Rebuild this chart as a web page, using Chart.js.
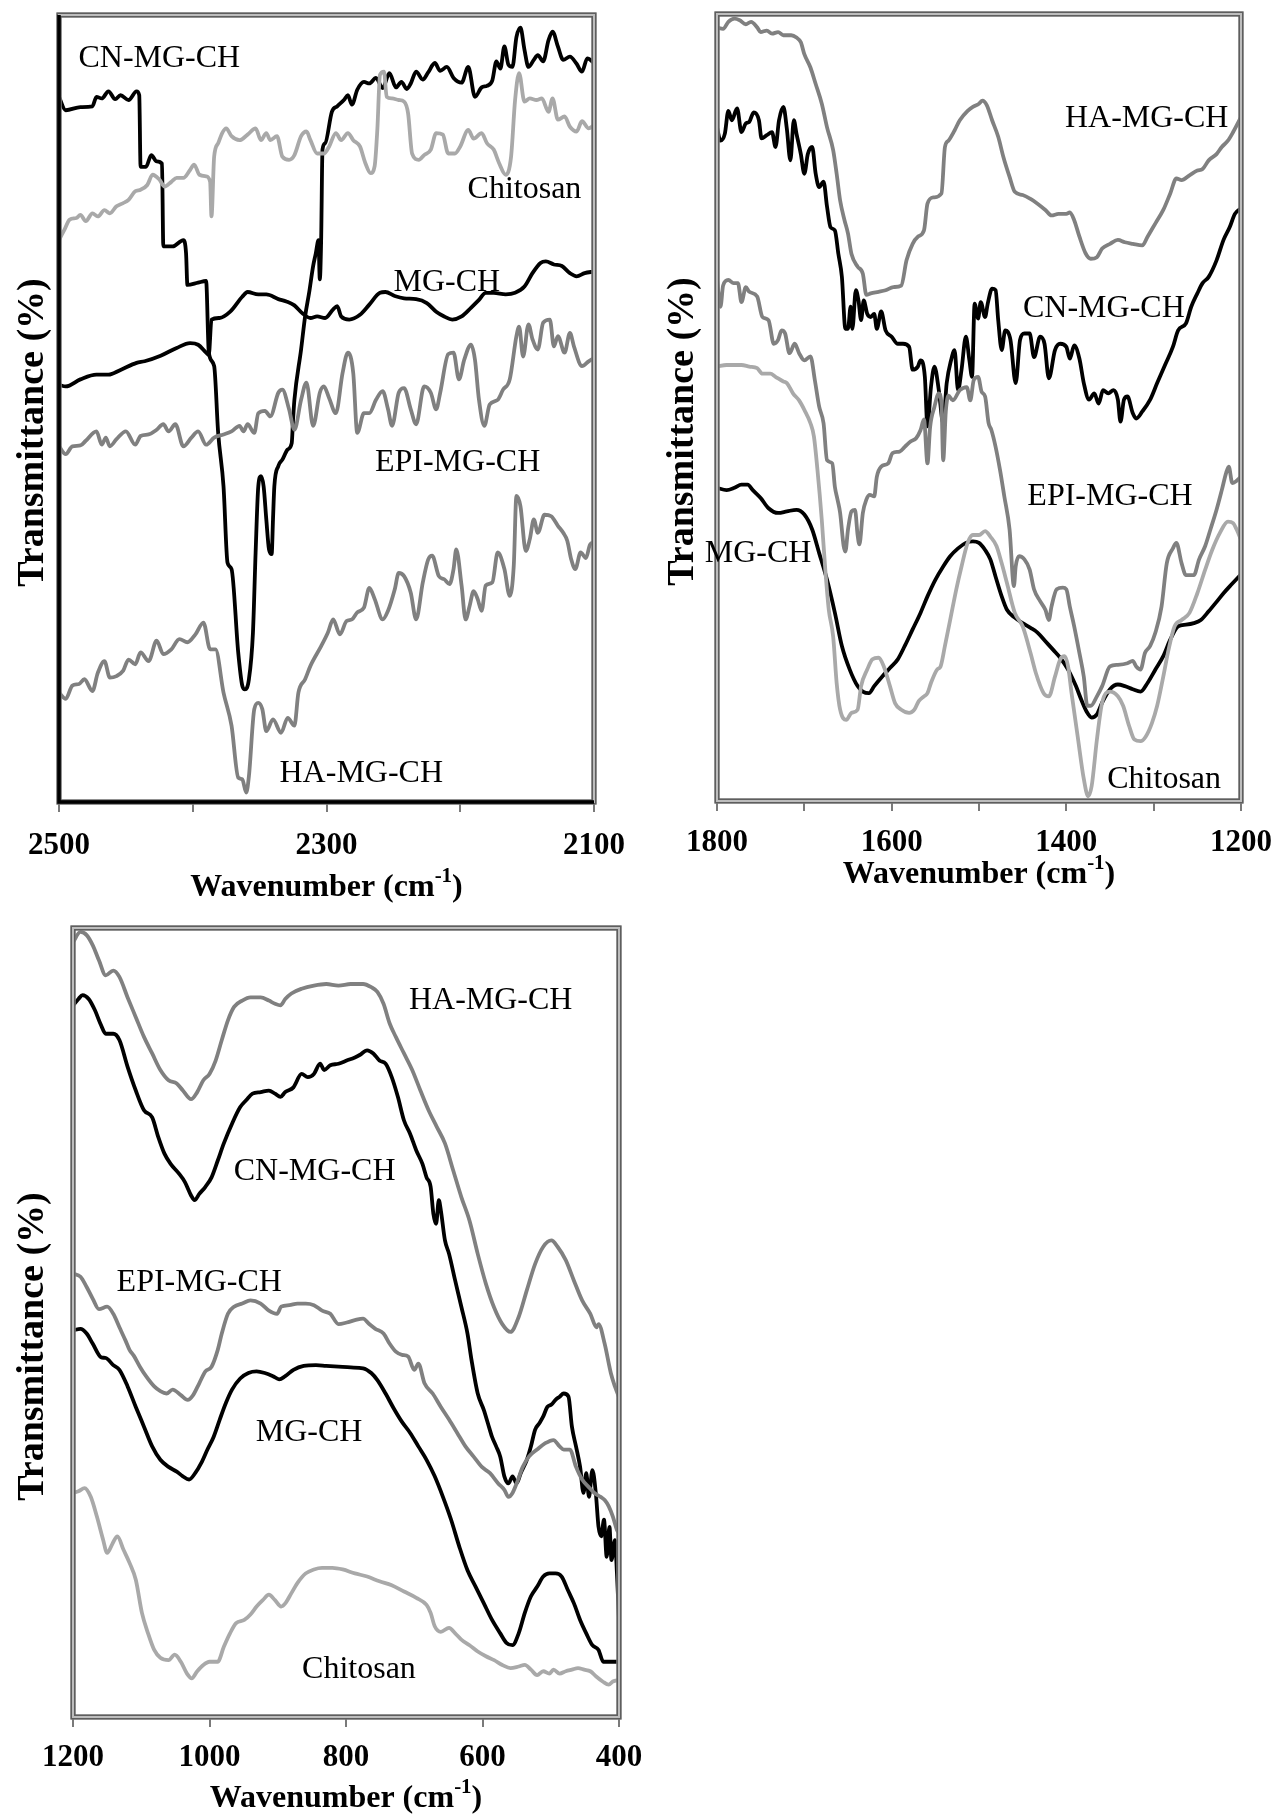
<!DOCTYPE html>
<html><head><meta charset="utf-8">
<script src="https://cdn.jsdelivr.net/npm/chart.js@4.4.1/dist/chart.umd.min.js"></script>
<style>
html,body{margin:0;padding:0;background:#fff;width:1285px;height:1814px;overflow:hidden}
canvas{position:absolute}
</style></head><body>
<canvas id="c1" width="640" height="910" style="left:0px;top:0px"></canvas>
<canvas id="c2" width="635" height="910" style="left:650px;top:0px"></canvas>
<canvas id="c3" width="660" height="904" style="left:0px;top:910px"></canvas>
<script>
// ---------- series names ----------
const seriesNames = ['Chitosan','MG-CH','EPI-MG-CH','HA-MG-CH','CN-MG-CH'];

// ---------- panel 1 : 2500-2100 cm-1  [wavenumber, transmittance(relative)] ----------
const p1CN = [[2500,89.6],[2495,87.9],[2484,88.3],[2475,88.4],[2472,89.6],[2468,89.4],[2463,90.3],[2458,89.3],[2454,89.8],[2448,89.2],[2442,90.3],[2440,89.8],[2439,80.7],[2435,80.7],[2431,82.2],[2427,81.4],[2423,81.1],[2422,70.6],[2415,70.6],[2407,71.4],[2405,69.7],[2404,65.7],[2396,66.0],[2390,66.2],[2388,57.1],[2384,55.4],[2381,46.9],[2377,40.1],[2374,30.4],[2371,29.6],[2366,19.0],[2363,14.8],[2361,14.3],[2358,15.6],[2355,21.5],[2353,31.7],[2351,40.1],[2349,41.4],[2347,40.1],[2345,35.9],[2343,32.1],[2341,31.5],[2340,35.9],[2339,40.1],[2336,42.7],[2333,43.5],[2329,44.8],[2326,45.6],[2325,48.6],[2324,51.1],[2319,57.5],[2316,61.7],[2313,64.7],[2310,68.1],[2308,69.7],[2306,71.4],[2305,66.4],[2304,71.4],[2303,82.9],[2301,83.7],[2296,87.7],[2292,88.4],[2287,89.2],[2284,89.8],[2281,88.6],[2277,90.5],[2272,91.5],[2268,91.3],[2263,92.0],[2258,90.7],[2253,92.6],[2248,90.8],[2244,91.5],[2240,90.6],[2237,91.3],[2233,92.8],[2228,91.8],[2224,92.7],[2219,93.9],[2215,92.9],[2210,93.4],[2205,92.0],[2199,91.4],[2194,93.4],[2189,89.6],[2184,90.8],[2180,91.0],[2176,91.7],[2173,94.1],[2170,93.2],[2167,96.0],[2164,93.7],[2161,93.4],[2158,97.2],[2155,98.4],[2152,95.6],[2149,93.4],[2145,94.3],[2142,94.9],[2138,94.1],[2134,96.8],[2131,97.9],[2127,96.0],[2123,94.3],[2118,94.7],[2113,93.8],[2109,92.8],[2105,94.5],[2100,93.9]];
const p1MG = [[2500,53.0],[2495,52.8],[2484,53.7],[2472,54.3],[2463,54.3],[2454,54.9],[2442,55.8],[2436,56.0],[2424,56.7],[2412,57.7],[2402,58.3],[2396,58.1],[2390,57.1],[2388,56.8],[2386,61.3],[2380,61.5],[2372,62.3],[2363,64.2],[2359,64.8],[2351,64.5],[2345,64.5],[2336,63.9],[2330,63.6],[2324,63.1],[2318,62.1],[2312,61.5],[2307,61.7],[2301,61.5],[2295,62.6],[2292,63.0],[2289,61.7],[2283,61.3],[2275,61.9],[2268,63.2],[2260,64.7],[2256,64.8],[2249,64.3],[2242,64.0],[2233,63.9],[2225,63.4],[2218,62.3],[2212,61.7],[2206,61.3],[2199,61.7],[2192,62.8],[2186,63.8],[2181,64.7],[2175,64.7],[2166,64.5],[2159,64.7],[2152,65.5],[2146,67.2],[2140,68.5],[2136,68.7],[2130,68.3],[2124,68.1],[2118,67.2],[2113,66.8],[2107,67.2],[2100,67.4]];
const p1Chi = [[2500,71.4],[2496,72.7],[2492,74.0],[2487,74.2],[2484,74.6],[2480,73.8],[2475,74.8],[2471,74.4],[2466,75.2],[2462,74.8],[2457,75.7],[2452,76.1],[2448,76.5],[2443,77.6],[2439,77.8],[2434,78.4],[2430,79.7],[2425,79.1],[2421,78.2],[2416,78.8],[2412,79.3],[2407,79.3],[2402,80.3],[2399,81.0],[2395,79.7],[2390,79.5],[2387,78.8],[2386,74.4],[2384,82.0],[2381,83.7],[2378,85.0],[2375,85.6],[2371,84.6],[2365,84.1],[2359,84.8],[2353,85.6],[2349,84.1],[2345,85.0],[2342,84.1],[2337,84.6],[2333,82.0],[2328,81.6],[2324,82.2],[2319,84.6],[2315,85.2],[2312,84.1],[2307,82.4],[2302,82.4],[2298,83.3],[2293,85.0],[2289,84.1],[2284,85.0],[2280,84.1],[2275,83.3],[2271,81.2],[2267,79.9],[2264,80.8],[2262,85.4],[2260,92.4],[2257,92.8],[2255,89.6],[2251,89.4],[2246,89.2],[2242,89.0],[2239,87.5],[2236,82.4],[2231,81.6],[2227,82.2],[2222,82.9],[2218,85.0],[2213,84.8],[2209,82.4],[2204,82.4],[2200,83.3],[2194,85.4],[2190,84.3],[2184,85.0],[2180,83.7],[2175,82.9],[2171,81.2],[2166,79.7],[2162,82.0],[2159,89.2],[2156,92.6],[2152,89.0],[2148,89.4],[2143,89.2],[2139,89.4],[2134,87.7],[2131,89.4],[2127,86.7],[2122,87.1],[2118,85.8],[2113,85.2],[2109,86.5],[2104,85.6],[2100,86.0]];
const p1EPI = [[2500,45.2],[2495,44.2],[2490,45.2],[2484,45.3],[2480,45.9],[2472,47.1],[2468,45.4],[2465,46.3],[2462,45.2],[2457,46.1],[2450,47.1],[2443,45.4],[2439,46.5],[2433,46.7],[2427,47.3],[2422,48.0],[2418,47.1],[2413,48.0],[2407,45.2],[2401,46.3],[2396,47.1],[2390,45.4],[2384,46.3],[2377,46.7],[2371,47.1],[2365,47.8],[2362,47.1],[2359,48.0],[2354,46.9],[2351,49.4],[2346,49.7],[2342,49.0],[2336,52.0],[2333,52.4],[2328,49.9],[2324,47.3],[2319,51.1],[2315,53.3],[2310,47.8],[2305,52.0],[2302,52.8],[2298,51.3],[2293,49.4],[2288,54.5],[2284,57.1],[2280,54.5],[2277,46.9],[2272,49.4],[2268,49.4],[2263,51.1],[2258,52.2],[2254,49.9],[2251,47.8],[2246,52.0],[2242,52.6],[2237,49.9],[2233,48.0],[2227,52.8],[2222,52.0],[2218,49.9],[2215,52.0],[2209,56.9],[2205,57.1],[2201,53.7],[2197,56.2],[2192,58.1],[2189,56.2],[2186,51.1],[2182,47.8],[2178,50.5],[2172,51.1],[2168,52.4],[2163,53.7],[2158,59.2],[2156,60.4],[2153,56.6],[2149,60.7],[2146,58.8],[2142,57.5],[2138,60.9],[2133,61.3],[2130,57.9],[2127,59.2],[2122,57.1],[2118,59.6],[2115,57.9],[2109,55.4],[2104,56.0],[2100,56.4]];
const p1HA = [[2500,13.9],[2495,13.1],[2490,14.8],[2485,15.0],[2481,15.6],[2475,14.1],[2471,16.4],[2466,17.9],[2462,15.8],[2457,16.0],[2452,16.7],[2448,18.1],[2443,17.5],[2439,19.0],[2433,17.9],[2427,20.5],[2422,18.8],[2416,19.4],[2410,20.7],[2404,20.3],[2398,21.3],[2392,22.8],[2387,19.4],[2383,19.4],[2377,13.9],[2371,9.7],[2366,3.1],[2363,2.9],[2360,1.2],[2358,3.3],[2354,11.8],[2351,12.6],[2348,11.8],[2345,9.0],[2340,10.5],[2334,8.8],[2329,10.7],[2324,9.7],[2321,13.9],[2316,15.6],[2312,17.3],[2304,19.8],[2299,21.5],[2295,23.2],[2290,21.3],[2285,23.0],[2281,23.2],[2277,24.1],[2272,24.7],[2268,27.2],[2264,25.8],[2258,23.2],[2254,24.3],[2249,27.0],[2246,29.1],[2242,28.7],[2237,26.6],[2233,23.2],[2228,27.9],[2224,30.8],[2221,31.3],[2216,28.7],[2212,28.3],[2208,27.7],[2205,29.6],[2203,32.1],[2199,27.5],[2196,23.2],[2193,24.9],[2190,26.8],[2187,25.8],[2184,24.3],[2181,27.5],[2176,27.9],[2172,31.7],[2167,29.6],[2163,26.2],[2160,30.0],[2158,38.9],[2155,37.6],[2151,31.9],[2148,33.4],[2145,35.9],[2142,34.2],[2137,36.5],[2132,36.3],[2127,35.1],[2123,34.2],[2120,33.2],[2117,30.8],[2114,29.6],[2110,31.7],[2106,31.0],[2103,32.7],[2100,33.0]];

// ---------- panel 2 : 1800-1200 cm-1 ----------
const p2HA = [[1800,98.3],[1793,98.1],[1787,99.0],[1780,99.4],[1774,99.2],[1767,98.7],[1761,99.0],[1754,98.3],[1750,97.7],[1743,97.9],[1737,97.5],[1730,97.7],[1724,97.3],[1715,97.3],[1709,97.0],[1704,96.4],[1700,94.9],[1693,93.2],[1687,91.1],[1680,88.6],[1674,85.6],[1667,82.7],[1663,79.7],[1659,76.3],[1654,73.8],[1650,72.1],[1646,69.5],[1639,67.9],[1633,67.0],[1629,64.3],[1624,64.5],[1615,64.7],[1607,64.9],[1598,65.3],[1589,65.5],[1583,68.7],[1576,70.8],[1570,71.7],[1563,72.5],[1559,75.9],[1552,76.7],[1543,77.2],[1539,83.1],[1535,83.9],[1528,85.2],[1522,86.5],[1513,87.7],[1507,88.2],[1500,88.6],[1496,89.0],[1491,88.4],[1485,86.5],[1478,84.4],[1472,81.8],[1465,79.3],[1459,77.4],[1450,77.0],[1441,76.5],[1433,75.9],[1424,75.1],[1417,74.4],[1409,74.6],[1400,74.6],[1396,74.8],[1391,73.8],[1385,71.7],[1378,69.6],[1372,68.9],[1365,69.1],[1359,70.2],[1350,70.8],[1341,71.3],[1333,71.0],[1324,70.8],[1313,70.6],[1307,71.7],[1298,73.4],[1289,75.1],[1281,77.2],[1274,79.1],[1268,78.9],[1259,79.5],[1250,80.1],[1244,80.3],[1237,81.4],[1228,82.2],[1222,83.1],[1215,83.9],[1209,85.0],[1200,86.9]];
const p2CN = [[1800,85.6],[1796,83.9],[1791,84.8],[1787,87.7],[1783,86.5],[1777,88.0],[1772,85.0],[1767,86.1],[1763,86.3],[1758,87.5],[1752,86.5],[1749,84.2],[1743,84.6],[1737,85.0],[1733,83.1],[1729,86.5],[1724,88.2],[1720,85.4],[1716,81.4],[1712,86.5],[1709,84.8],[1704,82.2],[1700,79.7],[1696,82.2],[1691,83.1],[1687,79.7],[1683,78.0],[1678,78.7],[1674,75.5],[1670,72.9],[1665,72.5],[1661,69.5],[1657,66.6],[1653,60.0],[1650,60.0],[1647,62.8],[1645,60.0],[1641,64.9],[1638,63.6],[1635,61.1],[1632,63.6],[1628,61.9],[1624,61.5],[1620,61.9],[1617,60.0],[1612,62.2],[1607,59.8],[1600,59.0],[1593,58.1],[1587,58.1],[1580,57.7],[1576,54.8],[1570,55.2],[1567,56.0],[1562,53.9],[1559,47.6],[1555,52.6],[1551,55.2],[1546,52.2],[1541,48.0],[1537,53.1],[1532,56.0],[1528,57.3],[1524,52.2],[1520,54.8],[1515,59.0],[1511,56.0],[1508,53.9],[1505,63.2],[1501,61.3],[1498,63.4],[1493,61.5],[1490,63.2],[1485,65.1],[1481,64.9],[1478,61.1],[1474,57.3],[1470,59.8],[1464,58.6],[1458,53.1],[1453,58.6],[1448,59.4],[1442,59.4],[1437,56.4],[1430,59.0],[1425,58.1],[1420,53.7],[1413,57.3],[1407,58.1],[1400,57.7],[1396,56.2],[1391,57.9],[1385,56.2],[1380,53.1],[1374,51.0],[1368,51.8],[1363,50.5],[1358,52.2],[1352,51.8],[1346,52.2],[1341,51.0],[1338,48.2],[1334,51.0],[1330,51.4],[1324,49.3],[1320,48.6],[1313,49.5],[1304,51.0],[1296,53.1],[1287,55.4],[1278,57.7],[1272,59.8],[1263,60.7],[1257,62.8],[1250,64.5],[1244,65.8],[1237,66.6],[1228,68.7],[1220,71.3],[1213,72.9],[1207,74.6],[1200,75.3]];
const p2EPI = [[1800,66.2],[1796,62.8],[1793,65.5],[1787,66.2],[1781,65.8],[1776,65.8],[1772,63.4],[1767,65.3],[1763,64.7],[1754,64.1],[1748,61.5],[1741,61.1],[1735,58.1],[1730,58.6],[1726,59.8],[1722,59.4],[1717,56.9],[1711,58.1],[1706,56.9],[1700,56.0],[1693,56.5],[1688,53.5],[1683,50.1],[1678,48.0],[1674,43.3],[1668,42.9],[1665,39.9],[1662,38.3],[1659,36.6],[1655,32.4],[1653,31.7],[1650,34.5],[1646,36.8],[1642,37.0],[1639,33.8],[1637,32.6],[1633,36.6],[1629,38.3],[1625,38.9],[1620,38.7],[1617,41.2],[1612,42.5],[1604,42.9],[1599,44.2],[1591,44.4],[1585,45.0],[1578,45.7],[1572,46.1],[1567,47.1],[1563,48.5],[1559,42.9],[1556,47.5],[1551,50.1],[1546,51.8],[1543,50.5],[1541,43.3],[1538,49.5],[1535,51.5],[1530,50.9],[1522,52.2],[1514,52.6],[1510,50.9],[1506,53.5],[1501,53.9],[1497,52.0],[1493,51.4],[1489,48.0],[1486,47.2],[1481,45.0],[1476,42.1],[1471,38.7],[1465,34.5],[1460,27.3],[1458,29.8],[1454,31.1],[1448,30.7],[1442,29.4],[1437,26.9],[1430,25.4],[1424,24.3],[1420,23.0],[1417,24.7],[1411,26.9],[1404,27.1],[1400,26.9],[1396,24.7],[1391,22.2],[1385,18.8],[1380,15.8],[1376,12.1],[1372,12.1],[1365,13.3],[1359,14.6],[1350,17.1],[1341,17.3],[1330,17.5],[1324,17.8],[1320,17.1],[1315,16.7],[1310,18.8],[1304,19.7],[1298,21.4],[1291,24.7],[1285,30.2],[1278,32.1],[1274,32.8],[1268,30.2],[1263,28.7],[1254,28.7],[1248,30.7],[1241,32.4],[1235,34.5],[1228,37.0],[1222,39.5],[1217,41.7],[1214,42.5],[1210,40.4],[1206,40.6],[1200,41.2]];
const p2Chi = [[1800,55.2],[1789,55.4],[1780,55.4],[1772,55.4],[1763,55.2],[1754,55.0],[1748,54.3],[1739,54.3],[1733,53.9],[1724,53.3],[1720,53.1],[1713,51.8],[1706,50.9],[1700,49.7],[1693,48.0],[1689,46.3],[1685,42.1],[1680,35.7],[1676,29.4],[1672,24.3],[1667,20.9],[1663,15.0],[1659,11.6],[1652,10.3],[1646,11.2],[1639,11.6],[1635,14.6],[1628,16.7],[1622,18.0],[1615,18.2],[1609,17.1],[1602,14.6],[1596,12.4],[1589,11.6],[1580,11.2],[1574,11.6],[1569,12.7],[1563,13.3],[1559,13.7],[1555,15.0],[1548,16.7],[1544,17.1],[1539,19.7],[1533,23.0],[1526,26.9],[1520,29.8],[1513,32.8],[1507,33.8],[1500,33.8],[1493,34.3],[1487,33.6],[1480,32.4],[1474,30.2],[1468,27.7],[1459,23.9],[1450,22.2],[1441,18.8],[1435,16.3],[1426,13.7],[1420,13.3],[1413,15.8],[1407,18.0],[1402,18.4],[1398,17.1],[1394,13.7],[1387,8.2],[1380,2.8],[1375,0.6],[1371,1.9],[1365,7.8],[1359,12.5],[1350,13.9],[1341,13.3],[1335,12.1],[1328,9.5],[1322,7.8],[1315,7.6],[1309,8.2],[1302,9.9],[1296,12.1],[1289,15.8],[1283,19.2],[1276,22.2],[1268,23.0],[1259,23.9],[1250,26.4],[1241,29.4],[1233,31.9],[1224,34.1],[1215,35.5],[1209,35.3],[1205,34.5],[1200,33.2]];
const p2MG = [[1800,39.8],[1789,39.5],[1780,39.8],[1772,40.2],[1765,40.2],[1759,39.5],[1750,38.5],[1741,37.2],[1730,36.6],[1720,36.8],[1709,37.0],[1700,36.4],[1691,34.5],[1683,31.5],[1674,28.1],[1665,23.9],[1657,19.7],[1648,16.7],[1639,14.6],[1633,13.9],[1626,13.7],[1620,14.6],[1611,15.8],[1602,16.9],[1593,18.0],[1585,19.7],[1576,21.8],[1567,23.9],[1559,26.0],[1550,28.1],[1541,29.8],[1533,31.1],[1524,32.1],[1515,32.8],[1507,33.0],[1500,32.8],[1493,31.9],[1487,30.7],[1481,28.5],[1474,26.0],[1468,24.3],[1459,23.3],[1450,22.6],[1441,22.0],[1433,21.4],[1424,20.3],[1415,19.2],[1407,18.2],[1398,16.7],[1389,14.6],[1383,12.9],[1376,11.2],[1371,10.6],[1365,11.0],[1359,12.5],[1350,14.2],[1341,14.8],[1333,14.6],[1324,14.2],[1315,13.9],[1307,15.0],[1298,16.7],[1289,18.4],[1281,20.5],[1272,22.2],[1263,22.4],[1254,22.6],[1246,23.0],[1237,24.1],[1228,25.3],[1220,26.4],[1211,27.5],[1200,28.8]];

// ---------- panel 3 : 1200-400 cm-1 ----------
const p3HA = [[1200,98.2],[1189,99.5],[1180,99.1],[1171,97.8],[1162,95.9],[1152,94.0],[1141,94.6],[1132,93.8],[1120,91.2],[1108,88.7],[1096,86.2],[1084,84.1],[1072,82.0],[1060,80.7],[1048,80.3],[1039,79.4],[1027,78.3],[1018,79.2],[1009,80.7],[1000,81.5],[991,83.2],[982,85.8],[973,88.3],[964,90.0],[952,90.8],[940,91.2],[925,91.2],[913,90.8],[904,90.4],[896,90.2],[889,91.0],[880,91.7],[865,92.3],[847,92.7],[829,92.9],[811,92.7],[793,92.9],[775,92.9],[763,92.5],[754,91.9],[745,90.4],[736,87.9],[727,86.2],[715,84.1],[703,82.0],[691,79.4],[679,76.9],[667,74.8],[655,72.7],[643,69.3],[631,65.9],[619,62.9],[607,58.7],[595,54.9],[583,51.9],[571,49.8],[559,48.8],[547,50.7],[535,54.1],[523,57.4],[511,59.6],[499,60.4],[490,59.6],[478,57.9],[466,55.3],[454,52.8],[442,51.1],[433,49.4],[430,49.8],[421,47.3],[412,43.6],[406,41.9],[402,41.0],[400,40.5]];
const p3CN = [[1200,90.2],[1192,91.0],[1186,91.5],[1177,91.0],[1168,89.6],[1159,87.7],[1152,86.6],[1141,86.6],[1132,85.8],[1120,82.4],[1108,79.4],[1096,76.9],[1084,76.0],[1075,73.5],[1066,71.4],[1057,70.1],[1045,68.9],[1036,67.8],[1027,66.1],[1022,65.5],[1015,66.3],[1006,67.2],[997,68.4],[988,70.5],[979,72.7],[967,75.2],[955,77.3],[946,78.2],[937,79.0],[925,79.2],[913,79.4],[904,79.0],[896,78.6],[889,79.2],[877,79.8],[865,81.5],[856,81.1],[847,81.5],[838,82.8],[832,82.0],[823,82.6],[811,82.8],[799,83.2],[787,83.6],[780,83.9],[769,84.5],[760,84.1],[751,83.2],[742,82.8],[733,81.1],[724,78.6],[715,75.6],[706,73.9],[697,71.8],[688,70.1],[682,68.4],[676,67.2],[672,63.8],[668,62.5],[664,65.5],[661,64.2],[655,60.4],[649,58.7],[640,55.3],[631,52.0],[622,48.6],[616,45.2],[607,41.0],[598,38.9],[592,37.2],[586,35.5],[580,34.3],[574,33.0],[568,30.5],[562,29.6],[556,30.5],[550,29.6],[544,30.9],[535,32.6],[529,34.3],[523,36.4],[517,37.2],[511,38.1],[505,39.3],[499,39.6],[493,40.2],[487,40.6],[481,41.0],[474,40.6],[469,36.8],[463,34.3],[457,31.7],[452,28.4],[448,30.9],[444,27.9],[439,31.3],[434,28.4],[430,24.1],[426,22.9],[422,25.0],[418,20.3],[414,24.1],[411,19.9],[406,22.4],[403,18.2],[400,12.3]];
const p3EPI = [[1200,56.2],[1189,55.8],[1180,54.5],[1171,53.0],[1162,51.7],[1150,52.0],[1141,51.1],[1132,49.4],[1123,47.7],[1117,46.5],[1111,45.8],[1102,44.4],[1093,43.2],[1081,41.9],[1072,41.3],[1063,41.0],[1054,41.5],[1042,40.8],[1032,40.2],[1024,40.8],[1015,42.3],[1006,43.8],[997,44.4],[988,46.5],[982,48.6],[973,51.1],[964,52.0],[952,52.4],[940,52.8],[925,52.4],[913,51.5],[901,51.1],[895,52.0],[883,52.2],[871,52.4],[859,52.4],[847,52.2],[835,51.5],[823,51.1],[811,49.8],[799,50.0],[787,50.3],[775,50.5],[766,49.8],[757,49.2],[745,48.6],[736,47.3],[727,46.3],[718,45.9],[709,45.7],[700,44.0],[694,44.8],[685,42.3],[673,41.0],[661,39.3],[649,37.7],[637,36.0],[625,34.3],[613,33.0],[601,31.7],[589,30.9],[577,29.6],[568,28.8],[562,27.9],[556,28.4],[550,29.6],[541,31.7],[532,33.0],[520,33.9],[508,34.7],[496,35.1],[487,34.3],[481,33.9],[472,33.9],[463,31.7],[454,30.1],[445,29.2],[436,28.4],[427,27.9],[421,27.5],[415,26.7],[409,25.4],[403,23.7],[400,23.3]];
const p3MG = [[1200,49.0],[1189,49.2],[1180,48.6],[1171,47.3],[1159,45.6],[1152,45.5],[1141,44.6],[1132,44.0],[1120,41.9],[1108,39.3],[1096,36.8],[1084,34.3],[1072,32.6],[1060,31.7],[1048,31.1],[1039,30.5],[1030,30.1],[1021,30.9],[1012,32.2],[1003,33.9],[994,35.5],[985,37.7],[976,39.8],[967,41.5],[955,42.9],[943,43.6],[931,43.8],[919,43.6],[907,43.2],[898,42.8],[889,43.2],[877,44.0],[862,44.5],[844,44.6],[829,44.5],[811,44.4],[793,44.3],[775,44.2],[763,43.6],[754,42.7],[742,41.0],[730,39.1],[718,37.4],[706,36.0],[694,34.3],[682,32.6],[670,30.5],[658,27.9],[646,25.0],[634,21.6],[622,18.6],[610,16.5],[598,14.4],[586,12.3],[574,10.6],[565,9.4],[556,9.1],[547,10.6],[538,13.2],[529,15.3],[520,16.5],[511,17.8],[502,18.2],[493,18.2],[484,17.8],[475,16.1],[466,14.4],[457,12.3],[448,10.6],[439,9.1],[430,8.5],[423,7.0],[412,7.0],[400,7.0]];
const p3Chi = [[1200,28.4],[1192,28.6],[1183,29.0],[1174,27.9],[1165,25.4],[1156,22.5],[1150,20.8],[1142,22.0],[1135,22.9],[1126,21.2],[1117,19.5],[1108,17.4],[1099,13.2],[1090,10.6],[1081,8.5],[1072,7.5],[1060,7.2],[1051,7.9],[1042,7.0],[1033,5.5],[1026,4.9],[1018,5.8],[1009,6.6],[1000,7.0],[988,7.0],[979,8.9],[970,10.6],[961,11.9],[949,12.3],[940,13.0],[931,14.0],[922,14.8],[913,15.5],[904,14.8],[895,14.0],[889,14.4],[880,15.7],[871,17.0],[859,18.2],[847,18.7],[835,18.9],[820,18.9],[805,18.7],[787,18.2],[769,17.8],[751,17.2],[733,16.7],[715,15.9],[697,15.1],[682,14.2],[676,13.2],[670,11.5],[661,10.8],[649,11.3],[640,10.6],[631,9.8],[619,9.1],[607,8.3],[595,7.7],[583,7.2],[571,6.6],[559,6.2],[547,6.4],[538,6.6],[529,6.0],[520,5.3],[511,5.8],[502,5.5],[496,6.0],[487,5.5],[478,5.8],[469,6.0],[460,6.2],[451,6.0],[442,5.8],[433,5.1],[424,4.5],[415,4.1],[409,4.5],[400,4.7]];

// ---------- axes ----------
const p1Range = [2100, 2500], p1Step = 100, p1TickLabels = [2500, 2300, 2100];
const p2Range = [1200, 1800], p2Step = 100, p2TickLabels = [1800, 1600, 1400, 1200];
const p3Range = [400, 1200],  p3Step = 200, p3TickLabels = [1200, 1000, 800, 600, 400];
const xTitleParts = ['Wavenumber (cm', '-1', ')'];
const yTitle = 'Transmittance (%)';

// ---------- curve labels (anchor in data units) ----------
const p1LabelText = ['CN-MG-CH','Chitosan','MG-CH','EPI-MG-CH','HA-MG-CH'];
const p1LabelWn   = [2425, 2152, 2210, 2202, 2274];
const p1LabelT    = [94.5, 77.8, 66.0, 43.1, 3.6];
const p2LabelText = ['HA-MG-CH','CN-MG-CH','EPI-MG-CH','MG-CH','Chitosan'];
const p2LabelWn   = [1308, 1357, 1350, 1753, 1288];
const p2LabelT    = [86.7, 62.6, 38.7, 31.5, 2.7];
const p3LabelText = ['HA-MG-CH','CN-MG-CH','EPI-MG-CH','MG-CH','Chitosan'];
const p3LabelWn   = [588, 846, 1015, 854, 781];
const p3LabelT    = [90.8, 69.1, 55.1, 36.0, 6.0];

// ---------- styles ----------
const FONT = "'Liberation Serif','Times New Roman',serif";
const COLORS = {'Chitosan':'#a9a9a9','MG-CH':'#000000','EPI-MG-CH':'#808080','HA-MG-CH':'#808080','CN-MG-CH':'#000000'};

function toXY(arr){ return arr.map(p => ({x:p[0], y:p[1]})); }

const framePlugin = {
  id:'frame',
  afterDatasetsDraw(chart, args, opts){
    const {ctx, chartArea:a} = chart;
    const w = a.right - a.left, h = a.bottom - a.top;
    ctx.save();
    ctx.strokeStyle = '#bdbdbd'; ctx.lineWidth = 5;
    ctx.strokeRect(a.left, a.top, w, h);
    ctx.strokeStyle = '#5e5e5e'; ctx.lineWidth = 1.6;
    ctx.strokeRect(a.left - 1.8, a.top - 1.8, w + 3.6, h + 3.6);
    ctx.strokeRect(a.left + 1.8, a.top + 1.8, w - 3.6, h - 3.6);
    if (opts.black){
      ctx.strokeStyle = '#000'; ctx.lineWidth = 3.5;
      ctx.beginPath(); ctx.moveTo(a.left, a.top); ctx.lineTo(a.left, a.bottom); ctx.lineTo(a.right, a.bottom); ctx.stroke();
    }
    ctx.restore();
  }
};
const labelPlugin = {
  id:'seriesLabels',
  afterDatasetsDraw(chart, args, opts){
    const {ctx} = chart; const xs = chart.scales.x, ys = chart.scales.y;
    ctx.save();
    ctx.font = '32px ' + FONT; ctx.fillStyle = '#000'; ctx.textAlign = 'center'; ctx.textBaseline = 'middle';
    opts.text.forEach((t, i) => ctx.fillText(t, xs.getPixelForValue(opts.wn[i]), ys.getPixelForValue(opts.t[i])));
    ctx.restore();
  }
};
const titlesPlugin = {
  id:'axisTitles',
  afterDraw(chart, args, opts){
    const {ctx, chartArea:a} = chart;
    // x title with superscript
    const cx = (a.left + a.right) / 2, y = a.bottom + opts.xOffset;
    const main = 'bold 32px ' + FONT, sup = 'bold 21px ' + FONT;
    const [t1, t2, t3] = opts.parts;
    ctx.save(); ctx.fillStyle = '#000'; ctx.textBaseline = 'middle'; ctx.textAlign = 'left';
    ctx.font = main; const w1 = ctx.measureText(t1).width, w3 = ctx.measureText(t3).width;
    ctx.font = sup; const w2 = ctx.measureText(t2).width;
    let x = cx - (w1 + w2 + w3) / 2;
    ctx.font = main; ctx.fillText(t1, x, y); x += w1;
    ctx.font = sup; ctx.fillText(t2, x, y - 11); x += w2;
    ctx.font = main; ctx.fillText(t3, x, y);
    ctx.restore();
    // rotated y title
    ctx.save();
    ctx.translate(opts.yBaseX, (a.top + a.bottom) / 2 + opts.yShift);
    ctx.rotate(-Math.PI / 2);
    ctx.font = 'bold 38px ' + FONT; ctx.fillStyle = '#000'; ctx.textAlign = 'center'; ctx.textBaseline = 'alphabetic';
    ctx.fillText(opts.yText, 0, 0);
    ctx.restore();
  }
};

function makeChart(id, c){
  const order = ['Chitosan','EPI-MG-CH','HA-MG-CH','MG-CH','CN-MG-CH'];
  const datasets = order.map(name => ({
    label: name, data: toXY(c.series[name]), borderColor: COLORS[name], borderWidth: 3.8,
    pointRadius: 0, fill: false, cubicInterpolationMode: 'monotone', borderJoinStyle: 'round', borderCapStyle: 'round'
  }));
  return new Chart(document.getElementById(id), {
    type: 'line',
    data: { datasets },
    options: {
      responsive: false, animation: false, devicePixelRatio: 1,
      layout: { padding: { left: 0, top: c.padTop, right: c.padRight, bottom: 0 } },
      plugins: {
        legend: { display: false }, tooltip: { enabled: false },
        frame: { black: c.black },
        seriesLabels: { text: c.labels[0], wn: c.labels[1], t: c.labels[2] },
        axisTitles: { xOffset: c.titleOffset, parts: xTitleParts, yText: yTitle, yBaseX: c.yBaseX, yShift: 24 }
      },
      scales: {
        x: {
          type: 'linear', reverse: true, min: c.range[0], max: c.range[1],
          afterFit: s => { s.height = c.xH; },
          ticks: { stepSize: c.step, autoSkip: false, maxRotation: 0, minRotation: 0, color: '#000', padding: c.tickPad,
                   font: { family: FONT, size: 31, weight: 'bold' },
                   callback: v => c.tickLabels.includes(v) ? String(v) : '' },
          grid: { display: true, drawOnChartArea: false, drawTicks: true, tickLength: 10, color: '#7a7a7a', lineWidth: 2 },
          border: { display: false }
        },
        y: {
          min: 0, max: 100,
          afterFit: s => { s.width = c.yW; },
          ticks: { display: false }, grid: { display: false }, border: { display: false },
          title: { display: false }
        }
      }
    },
    plugins: [framePlugin, labelPlugin, titlesPlugin]
  });
}

makeChart('c1', {
  series: {'Chitosan':p1Chi,'MG-CH':p1MG,'EPI-MG-CH':p1EPI,'HA-MG-CH':p1HA,'CN-MG-CH':p1CN},
  range: p1Range, step: p1Step, tickLabels: p1TickLabels,
  labels: [p1LabelText, p1LabelWn, p1LabelT],
  padTop: 15, padRight: 42, xH: 108, yW: 59, tickPad: 15, titleOffset: 86, yBaseX: 43, black: true
});
makeChart('c2', {
  series: {'Chitosan':p2Chi,'MG-CH':p2MG,'EPI-MG-CH':p2EPI,'HA-MG-CH':p2HA,'CN-MG-CH':p2CN},
  range: p2Range, step: p2Step, tickLabels: p2TickLabels,
  labels: [p2LabelText, p2LabelWn, p2LabelT],
  padTop: 14, padRight: 36, xH: 109, yW: 67, tickPad: 13, titleOffset: 74, yBaseX: 43, black: false
});
makeChart('c3', {
  series: {'Chitosan':p3Chi,'MG-CH':p3MG,'EPI-MG-CH':p3EPI,'HA-MG-CH':p3HA,'CN-MG-CH':p3CN},
  range: p3Range, step: p3Step, tickLabels: p3TickLabels,
  labels: [p3LabelText, p3LabelWn, p3LabelT],
  padTop: 18, padRight: 41, xH: 97, yW: 73, tickPad: 12, titleOffset: 82, yBaseX: 43, black: false
});
</script>
</body></html>
